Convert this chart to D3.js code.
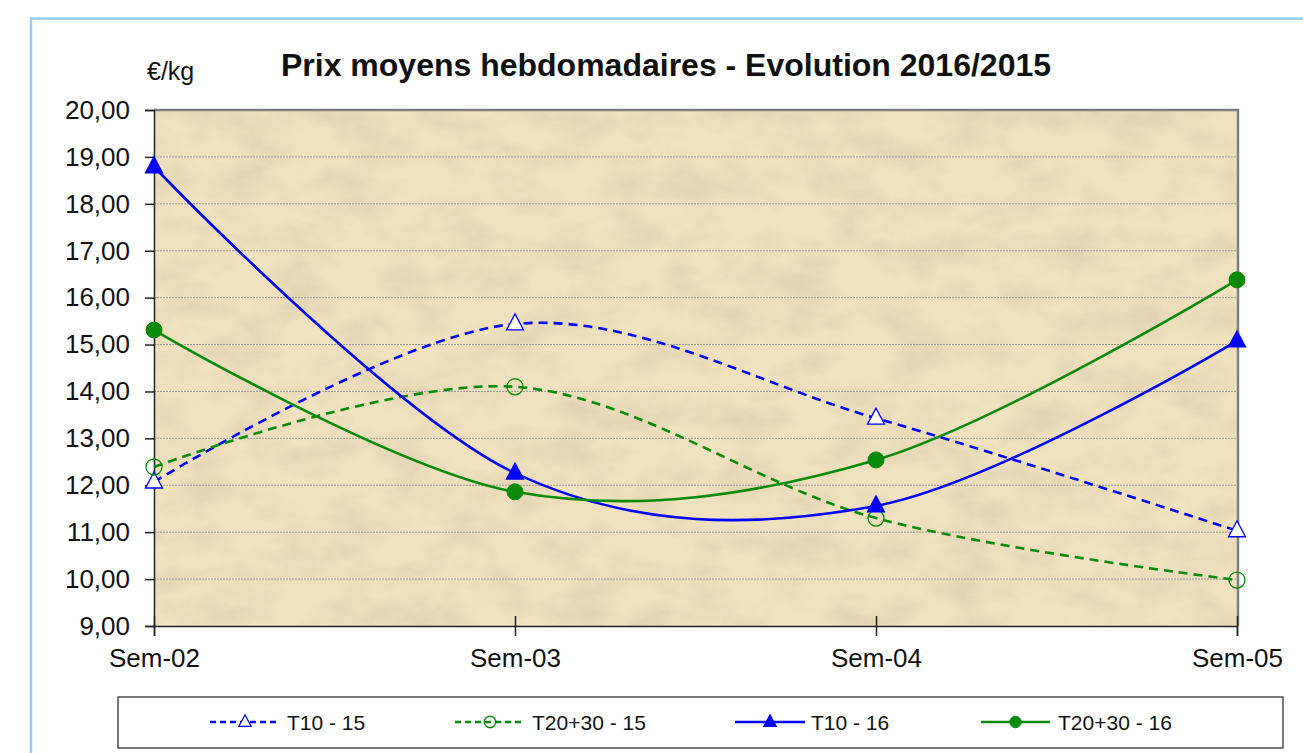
<!DOCTYPE html>
<html>
<head>
<meta charset="utf-8">
<script src="https://cdn.jsdelivr.net/npm/d3@7"></script>
<style>
  body { margin: 0; background: #fff; font-family: "Liberation Sans", Arial, sans-serif; }
  svg { display: block; }
</style>
</head>
<body>
<div id="chart"></div>
<script>
// data
var weeks = ['Sem-02', 'Sem-03', 'Sem-04', 'Sem-05'];
var yTicks = [9, 10, 11, 12, 13, 14, 15, 16, 17, 18, 19, 20];
var seriesNames = ['T10 - 15', 'T20+30 - 15', 'T10 - 16', 'T20+30 - 16'];
var t10_15 = [12.07, 15.44, 13.43, 11.03];
var t2030_15 = [12.39, 14.10, 11.30, 9.98];
var t10_16 = [18.79, 12.26, 11.56, 15.08];
var t2030_16 = [15.31, 11.86, 12.54, 16.38];

// 畫布
const W = 1303, H = 753;
const plot = {left: 154, top: 110, right: 1238, bottom: 626};
var fmt = d3.format('.2f');
var FONT = '"Liberation Sans", Arial, sans-serif';

var svg = d3.select('#chart').append('svg')
  .attr('width', W).attr('height', H)
  .attr('font-family', FONT);

var defs = svg.append('defs');
var filt = defs.append('filter').attr('id', 'paper')
  .attr('x', 0).attr('y', 0).attr('width', '100%').attr('height', '100%');
filt.append('feTurbulence').attr('type', 'fractalNoise')
  .attr('baseFrequency', '0.018 0.03').attr('numOctaves', 5).attr('seed', 11).attr('result', 'n');
filt.append('feColorMatrix').attr('in', 'n').attr('type', 'matrix')
  .attr('values', '0 0 0 0 0.70  0 0 0 0 0.60  0 0 0 0 0.42  0 0 0 -2.2 1.35')
  .attr('result', 'c');
filt.append('feComposite').attr('in', 'c').attr('in2', 'SourceGraphic').attr('operator', 'in');

// 外框
svg.append('rect')
  .attr('x', 31).attr('y', 18.5).attr('width', 1320).attr('height', 800)
  .attr('fill', '#fff').attr('stroke', '#8fd2f0').attr('stroke-width', 2.5);

// scales
var x = d3.scalePoint().domain(weeks).range([plot.left, plot.right - 1]).padding(0);
var y = d3.scaleLinear().domain([9, 20]).range([plot.bottom, plot.top]);

// 背景
svg.append('rect')
  .attr('x', plot.left).attr('y', plot.top)
  .attr('width', plot.right - plot.left).attr('height', plot.bottom - plot.top)
  .attr('fill', '#f1e2bf');
svg.append('rect')
  .attr('x', plot.left).attr('y', plot.top)
  .attr('width', plot.right - plot.left).attr('height', plot.bottom - plot.top)
  .attr('fill', '#000').attr('filter', 'url(#paper)').attr('opacity', 0.6);

// grid
svg.append('g').selectAll('line')
  .data(yTicks.filter(d => d > 9 && d < 20))
  .enter().append('line')
  .attr('x1', plot.left).attr('x2', plot.right)
  .attr('y1', d => y(d)).attr('y2', d => y(d))
  .attr('stroke', '#9a9a9a').attr('stroke-width', 1).attr('stroke-dasharray', '2,1');

// plot border (top/right)
svg.append('path')
  .attr('d', `M${plot.left},${plot.top}H${plot.right}V${plot.bottom}`)
  .attr('fill', 'none').attr('stroke', '#7f7f7f').attr('stroke-width', 2.5);

// y axis
var yAxis = d3.axisLeft(y).tickValues(yTicks).tickSize(9).tickPadding(15)
  .tickFormat(d => fmt(d).replace('.', ','));
var gy = svg.append('g').attr('transform', `translate(${plot.left},0)`).call(yAxis);
gy.attr('font-family', FONT).attr('font-size', 26);
gy.select('.domain').attr('stroke', '#222').attr('stroke-width', 1.5);
gy.selectAll('.tick line').attr('stroke', '#222').attr('stroke-width', 1.5);
gy.selectAll('text').attr('fill', '#111');

// x axis
var xAxis = d3.axisBottom(x).tickSize(10).tickPadding(12.5);
var gx = svg.append('g').attr('transform', `translate(0,${plot.bottom})`).call(xAxis);
gx.attr('font-family', FONT).attr('font-size', 26);
gx.select('.domain').attr('stroke', '#222').attr('stroke-width', 1.5);
gx.selectAll('.tick line').attr('stroke', '#222').attr('stroke-width', 1.5)
  .attr('y1', -10).attr('y2', 10);
gx.selectAll('text').attr('fill', '#111');

// titles
svg.append('text').attr('x', 666).attr('y', 76).attr('text-anchor', 'middle')
  .attr('font-size', 32).attr('font-weight', 'bold').attr('fill', '#111')
  .text('Prix moyens hebdomadaires - Evolution 2016/2015');
svg.append('text').attr('x', 147).attr('y', 80)
  .attr('font-size', 25).attr('fill', '#111').text('€/kg');

// series
var series = [
  {name: seriesNames[0], values: t10_15, color: '#0000ff', dash: '9,6', marker: 'triangle', filled: false},
  {name: seriesNames[1], values: t2030_15, color: '#0a8a0a', dash: '9,6', marker: 'circle', filled: false},
  {name: seriesNames[2], values: t10_16, color: '#0000ff', dash: null, marker: 'triangle', filled: true},
  {name: seriesNames[3], values: t2030_16, color: '#0a8a0a', dash: null, marker: 'circle', filled: true}
];

var line = d3.line().curve(d3.curveCardinal.tension(0))
  .x((d, i) => x(weeks[i])).y(d => y(d));

function drawMarker(g, cx, cy, s, k) {
  if (s.marker == 'triangle') {
    g.append('path')
      .attr('d', `M${cx},${cy - 10 * k}L${cx + 8.5 * k},${cy + 6 * k}L${cx - 8.5 * k},${cy + 6 * k}Z`)
      .attr('fill', s.filled ? s.color : '#fff')
      .attr('stroke', s.color).attr('stroke-width', 1.3);
  } else {
    g.append('circle').attr('cx', cx).attr('cy', cy).attr('r', 8 * k)
      .attr('fill', s.filled ? s.color : 'none')
      .attr('stroke', s.color).attr('stroke-width', s.filled ? 1 : 1.3);
  }
}

var gl = svg.append('g');
series.forEach(function(s) {
  gl.append('path')
    .attr('d', line(s.values))
    .attr('fill', 'none').attr('stroke', s.color).attr('stroke-width', 2.6)
    .attr('stroke-dasharray', s.dash);
});
series.forEach(function(s) {
  s.values.forEach(function(v, i) {
    drawMarker(gl, x(weeks[i]), y(v), s, 1);
  });
});

// legend
var leg = svg.append('g');
leg.append('rect').attr('x', 118).attr('y', 697).attr('width', 1165).attr('height', 51)
  .attr('fill', '#fff').attr('stroke', '#333').attr('stroke-width', 1.3);
var legPos = [
  {x1: 210, x2: 280, tx: 287},
  {x1: 455, x2: 525, tx: 532},
  {x1: 735, x2: 805, tx: 811},
  {x1: 981, x2: 1050, tx: 1058}
];
series.forEach(function(s, i) {
  var p = legPos[i];
  var cy = 722;
  leg.append('line').attr('x1', p.x1).attr('x2', p.x2).attr('y1', cy).attr('y2', cy)
    .attr('stroke', s.color).attr('stroke-width', 2.4)
    .attr('stroke-dasharray', s.dash ? '6,4' : null);
  drawMarker(leg, (p.x1 + p.x2) / 2, cy, s, 0.72);
  leg.append('text').attr('x', p.tx).attr('y', cy + 8)
    .attr('font-size', 21).attr('fill', '#111').text(s.name);
});
</script>
</body>
</html>
